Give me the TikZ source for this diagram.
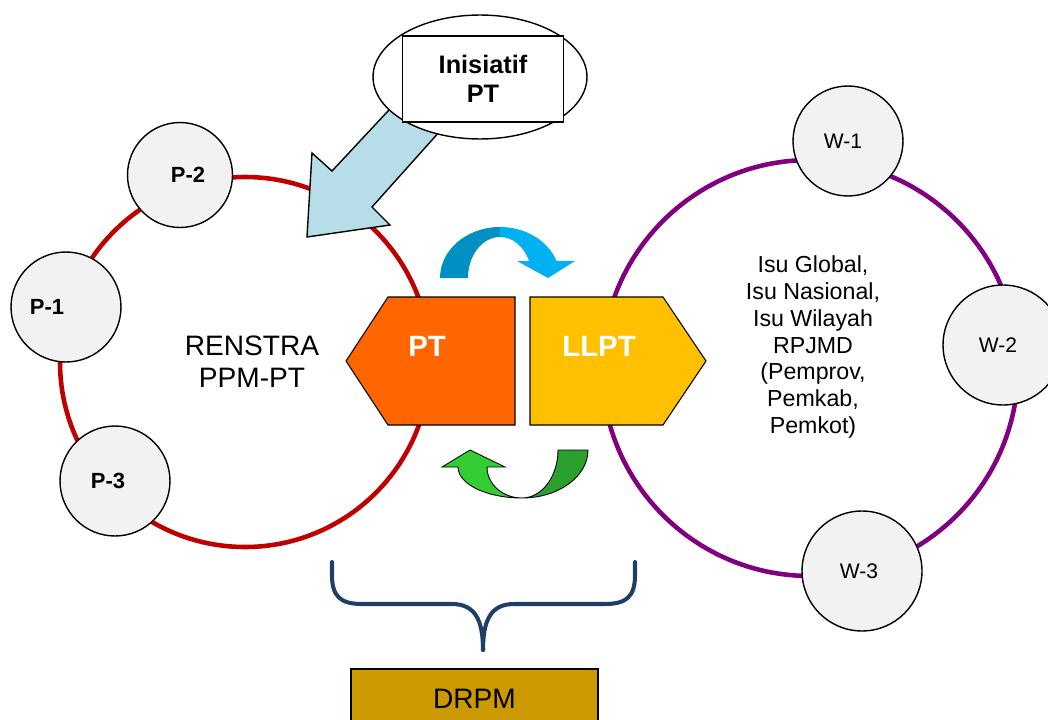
\documentclass[tikz,border=0pt]{standalone}
\usepackage{fontspec}
\setmainfont{Liberation Sans}
\usetikzlibrary{shapes.geometric}

\definecolor{ringred}{HTML}{C00000}
\definecolor{ringpurple}{HTML}{800080}
\definecolor{bubblegray}{HTML}{F2F2F2}
\definecolor{ptorange}{HTML}{FF6600}
\definecolor{llptgold}{HTML}{FFC000}
\definecolor{skyfront}{HTML}{00B0F0}
\definecolor{skyback}{HTML}{0090C4}
\definecolor{leaflight}{HTML}{33CC33}
\definecolor{leafdark}{HTML}{2CA02C}
\definecolor{inflowblue}{HTML}{B7DDE8}
\definecolor{bracenavy}{HTML}{1F3F66}
\definecolor{drpmgold}{HTML}{CC9900}

\tikzset{
  ring/.style={line width=2.6pt},
  bubble/.style={circle, draw, line width=0.8pt, fill=bubblegray, inner sep=0pt},
  plabel/.style={font=\bfseries\fontsize{12.5}{14}\selectfont},
  wlabel/.style={font=\fontsize{12}{14}\selectfont},
  hexa/.style={draw, line width=0.6pt},
  hexlabel/.style={text=white, font=\bfseries\fontsize{16.7}{19}\selectfont},
  twist/.style={draw, line width=0.5pt}
}

\begin{document}
\begin{tikzpicture}[x=0.02cm, y=-0.02cm]
  \useasboundingbox (0,0) rectangle (1048,720);
  \clip (0,0) rectangle (1048,720);

  % the two rings
  \draw[ring, ringred] (245,362) circle[radius=185];
  \draw[ring, ringpurple] (810,368) circle[radius=208];

  % bubbles on the rings
  \node[bubble, minimum size=2.1cm, label={[plabel, xshift=0.16cm]center:P-2}] (p2) at (180,175) {};
  \node[bubble, minimum size=2.2cm, label={[plabel, xshift=-0.38cm]center:P-1}] (p1) at (66,307) {};
  \node[bubble, minimum size=2.2cm, label={[plabel, xshift=-0.14cm]center:P-3}] (p3) at (115,481) {};
  \node[bubble, minimum size=2.2cm, label={[wlabel, xshift=-0.1cm]center:W-1}] (w1) at (848,141) {};
  \node[bubble, minimum size=2.4cm, label={[wlabel, xshift=-0.1cm]center:W-2}] (w2) at (1003,345) {};
  \node[bubble, minimum size=2.4cm, label={[wlabel, xshift=-0.06cm]center:W-3}] (w3) at (862,571) {};

  \node[align=center, font=\fontsize{16}{18.3}\selectfont] (renstra) at (252,362) {RENSTRA\\PPM-PT};
  \node[align=center, font=\fontsize{13.2}{15.2}\selectfont] (isu) at (813,347)
    {Isu Global,\\Isu Nasional,\\Isu Wilayah\\RPJMD\\(Pemprov,\\Pemkab,\\Pemkot)};

  % PT and LLPT blocks
  \draw[hexa, fill=ptorange] (346,361) -- (388,297) -- (515,297) -- (515,425) -- (388,425) -- cycle;
  \draw[hexa, fill=llptgold] (530,297) -- (663,297) -- (706,361) -- (663,425) -- (530,425) -- cycle;
  \node[hexlabel] (pt) at (427,346) {PT};
  \node[hexlabel] (llpt) at (599,346) {LLPT};

  % upper curved arrow
  \fill[skyback] (440,278) arc[start angle=180, end angle=270, x radius=60, y radius=51]
    -- (500,237) arc[start angle=270, end angle=180, x radius=32, y radius=41] -- cycle;
  \fill[skyfront] (500,227) arc[start angle=270, end angle=340.5, x radius=60, y radius=51]
    -- (575,261) -- (548,278) -- (517,261) -- (529.1,261)
    arc[start angle=335.5, end angle=270, x radius=32, y radius=41] -- cycle;

  % lower curved arrow
  \filldraw[twist, fill=leafdark] (588,450) arc[start angle=0, end angle=90, x radius=66, y radius=48]
    arc[start angle=90, end angle=0, x radius=36, y radius=48] -- cycle;
  \filldraw[twist, fill=leaflight] (522,498) arc[start angle=90, end angle=180, x radius=64, y radius=31]
    -- (442,467) -- (470,450) -- (505,467) -- (487,467)
    arc[start angle=180, end angle=90, x radius=35, y radius=31] -- cycle;

  % initiative arrow and its bubble
  \filldraw[line width=0.8pt, fill=inflowblue] (307,237) -- (312,153) -- (332,171) -- (430,66)
    -- (475,92) -- (372,207) -- (390,225) -- cycle;
  \node[ellipse, draw, line width=0.8pt, fill=white, minimum width=4.28cm, minimum height=2.48cm] (initoval) at (480,77) {};
  \node[draw, line width=0.8pt, fill=white, minimum width=3.22cm, minimum height=1.72cm, align=center,
    font=\bfseries\fontsize{14.4}{16.5}\selectfont] (init) at (483,79) {Inisiatif\\PT};

  % brace down to DRPM
  \coordinate (bracetip) at (483,650);
  \draw[bracenavy, line width=2.3pt, line cap=round]
    (332,562) -- (332,575) .. controls (332,596) and (340,604) .. (362,604) -- (452,604)
    .. controls (475,604) and (483,620) .. (bracetip);
  \draw[bracenavy, line width=2.3pt, line cap=round]
    (635,562) -- (635,575) .. controls (635,596) and (627,604) .. (605,604) -- (514,604)
    .. controls (491,604) and (483,620) .. (bracetip);
  \node[draw, line width=0.8pt, fill=drpmgold, minimum width=4.94cm, minimum height=1.2cm,
    font=\fontsize{16}{18}\selectfont] (drpm) at (474.5,699) {DRPM};
\end{tikzpicture}
\end{document}
